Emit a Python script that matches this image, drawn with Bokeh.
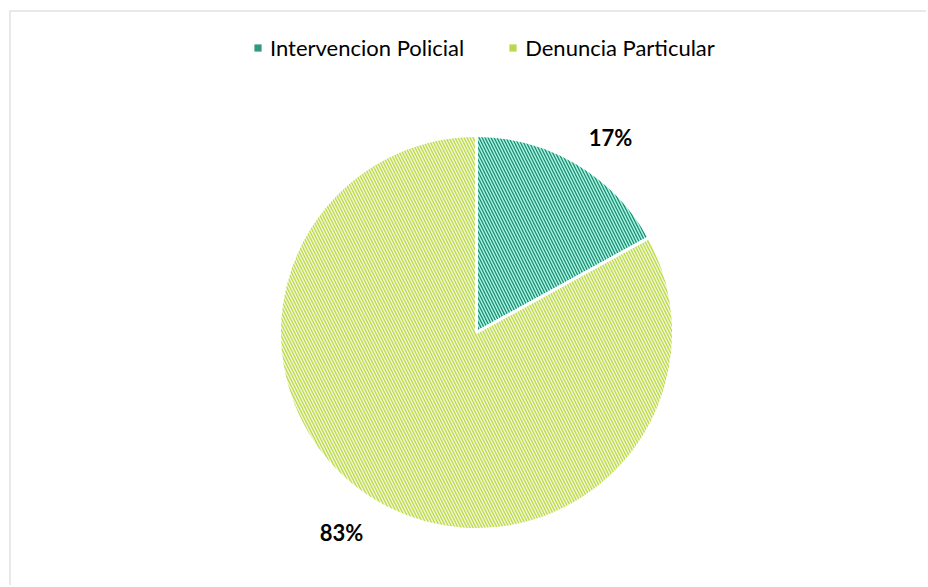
import math
from bokeh.plotting import figure
from bokeh.models import Legend, LegendItem, Range1d, ColumnDataSource, Span
from bokeh.core.properties import value
from bokeh.embed import file_html
from bokeh.resources import INLINE

categories = ["Intervencion Policial", "Denuncia Particular"]
percents = [17, 83]
labels = ["17%", "83%"]
fill_colors = ["#a8f7e4", "#f0f7d2"]
hatch_colors = ["#1f8a71", "#bcd94a"]
legend_colors = ["#2f9a80", "#bcd84a"]

W, H = 926, 585
ML, MT = 9, 10
p = figure(width=W, height=H, output_backend="svg", toolbar_location=None,
           x_range=Range1d(0, W - ML), y_range=Range1d(0, H - MT),
           min_border_left=ML, min_border_top=MT, min_border_right=0, min_border_bottom=0)
p.axis.visible = False
p.grid.visible = False
p.outline_line_color = None
p.background_fill_color = "white"
p.border_fill_color = "white"

# chart-area border (left & top visible in the reference)
p.add_layout(Span(location=0, dimension="height", line_color="#d4d4d4", line_width=2))
p.add_layout(Span(location=H - MT, dimension="width", line_color="#d4d4d4", line_width=2))

cx, cy, r = 467, 253, 197
total = sum(percents)
starts, ends = [], []
a = math.pi / 2
for v in percents:
    span = 2 * math.pi * v / total
    starts.append(a - span)
    ends.append(a)
    a -= span

src = ColumnDataSource(dict(start=starts, end=ends, fill=fill_colors, hatch=hatch_colors))
p.wedge(x=cx, y=cy, radius=r, start_angle="start", end_angle="end", source=src,
        fill_color="fill", line_color="white", line_width=3,
        hatch_pattern="\\", hatch_color="hatch", hatch_scale=6, hatch_weight=1.3)

# data labels (Excel best-fit placement)
label_offsets = [(134, 195), (-135, -200)]
for lab, (dx, dy) in zip(labels, label_offsets):
    p.text(x=[cx + dx], y=[cy + dy], text=[lab], text_align="center", text_baseline="middle",
           text_font=value("Lato"), text_font_size="22px", text_font_style="bold",
           text_color="#000000")

items = []
for cat, col in zip(categories, legend_colors):
    rr = p.rect(x=[cx], y=[cy], width=0, height=0, fill_color=col, line_color=None)
    items.append(LegendItem(label=cat, renderers=[rr]))

legend = Legend(items=items, orientation="horizontal", location=(244, 524),
                label_text_font="Lato", label_text_font_size="22px", label_text_color="#000000",
                glyph_width=9, glyph_height=9, label_standoff=8, spacing=44,
                padding=0, margin=0, border_line_color=None, background_fill_alpha=0)
p.add_layout(legend, "center")

open("out.html", "w").write(file_html(p, INLINE))
